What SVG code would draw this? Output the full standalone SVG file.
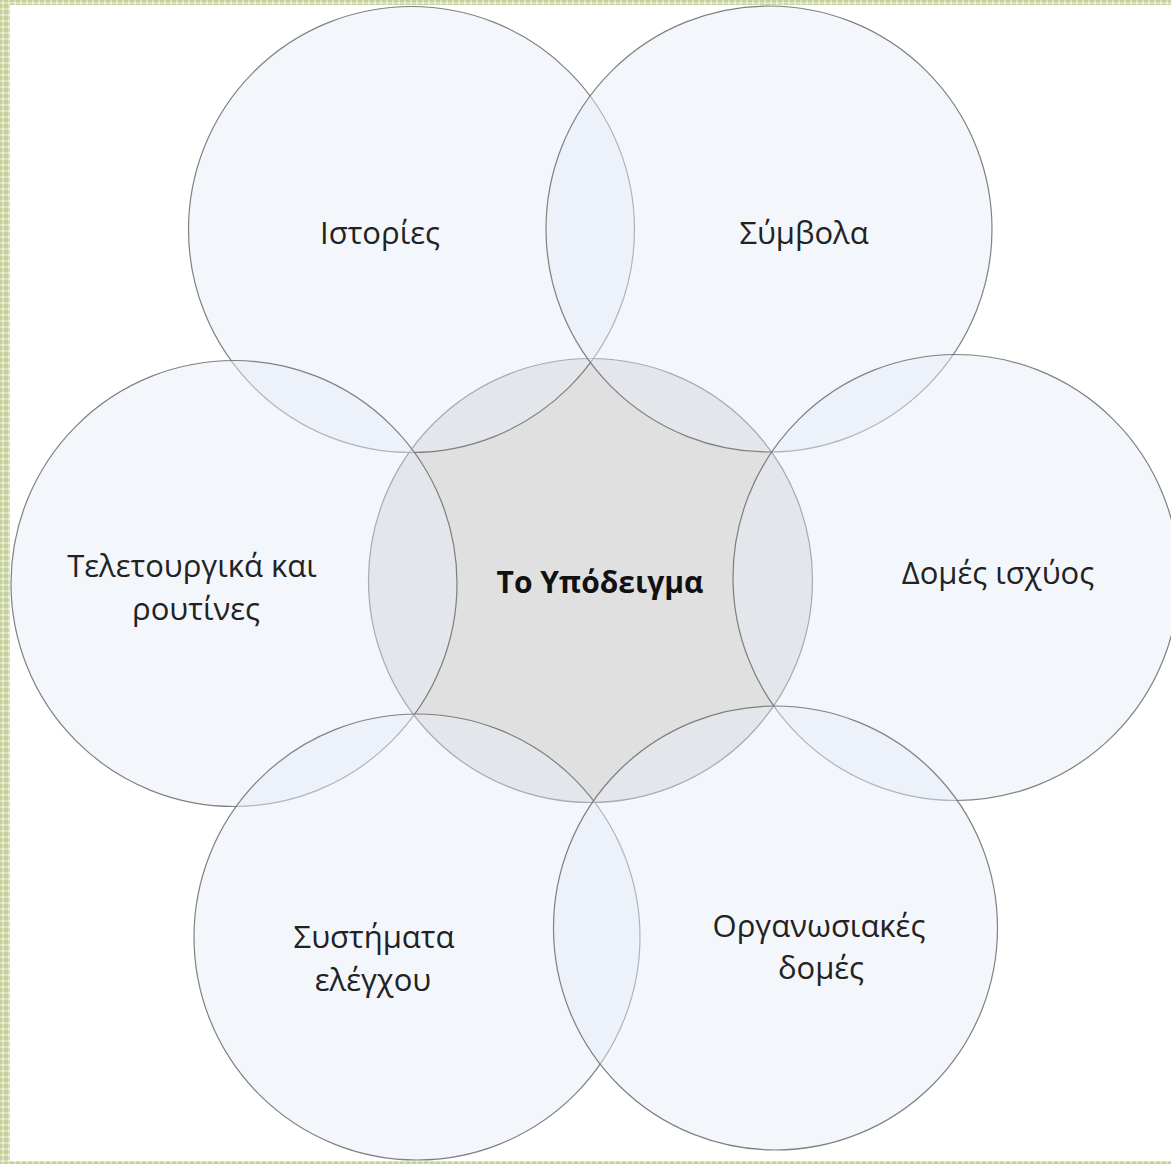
<svg xmlns="http://www.w3.org/2000/svg" width="1171" height="1164" viewBox="0 0 1171 1164">
  <defs>
    <!-- small green lattice used for the page frame -->
    <pattern id="lattice" width="6" height="6" patternUnits="userSpaceOnUse">
      <rect width="6" height="6" fill="#c5cf98"/>
      <rect x="2" y="0" width="2" height="6" fill="#d9e0bc"/>
      <rect x="0" y="2" width="6" height="2" fill="#d9e0bc"/>
      <rect x="2" y="2" width="2" height="2" fill="#eef1e2"/>
    </pattern>
    <style>
      .hub { fill: #e0e0e0; stroke: #6f6f6f; stroke-width: 1.2; }
      .petal { fill: rgb(230,236,247); fill-opacity: 0.48; stroke: #737373; stroke-opacity: 0.9; stroke-width: 1.2; }
      .lbl { font-family: "Open Sans", "Noto Sans", "DejaVu Sans", sans-serif; font-size: 31px; fill: #222222; text-anchor: middle; }
      .hubtxt { font-family: "Open Sans", "Noto Sans", "DejaVu Sans", sans-serif; font-size: 30px; font-weight: bold; fill: #111111; text-anchor: middle; }
    </style>
  </defs>

  <rect width="1171" height="1164" fill="#ffffff"/>

  <!-- page frame -->
  <g id="frame">
    <rect x="0" y="0" width="1171" height="5" fill="url(#lattice)"/>
    <rect x="0" y="0" width="10" height="1164" fill="url(#lattice)"/>
    <rect x="0" y="1161" width="1171" height="3" fill="url(#lattice)"/>
  </g>

  <!-- central circle, drawn first so the petals tint over it -->
  <g id="node-hub">
    <circle class="hub" cx="590.5" cy="580.5" r="222"/>
  </g>

  <g id="node-istories">
    <circle class="petal" cx="411.5" cy="229.5" r="223"/>
  </g>
  <g id="node-symvola">
    <circle class="petal" cx="769" cy="229" r="223"/>
  </g>
  <g id="node-teletourgika">
    <circle class="petal" cx="234" cy="583.5" r="223"/>
  </g>
  <g id="node-domes-ischyos">
    <circle class="petal" cx="956" cy="577.5" r="223"/>
  </g>
  <g id="node-systimata">
    <circle class="petal" cx="417" cy="937" r="223"/>
  </g>
  <g id="node-organosiakes">
    <circle class="petal" cx="775.5" cy="928" r="222"/>
  </g>

  <!-- labels -->
  <g id="labels">
    <text class="hubtxt" x="600" y="593">Το Υπόδειγμα</text>
    <text class="lbl" x="380" y="244">Ιστορίες</text>
    <text class="lbl" x="804" y="244">Σύμβολα</text>
    <text class="lbl" x="192" y="577">Τελετουργικά και</text>
    <text class="lbl" x="196" y="620">ρουτίνες</text>
    <text class="lbl" x="998" y="584">Δομές ισχύος</text>
    <text class="lbl" x="374" y="948">Συστήματα</text>
    <text class="lbl" x="373" y="991">ελέγχου</text>
    <text class="lbl" x="819" y="937">Οργανωσιακές</text>
    <text class="lbl" x="821" y="979">δομές</text>
  </g>

  <!-- no connectors in this diagram -->
  <g id="connectors"/>
</svg>
